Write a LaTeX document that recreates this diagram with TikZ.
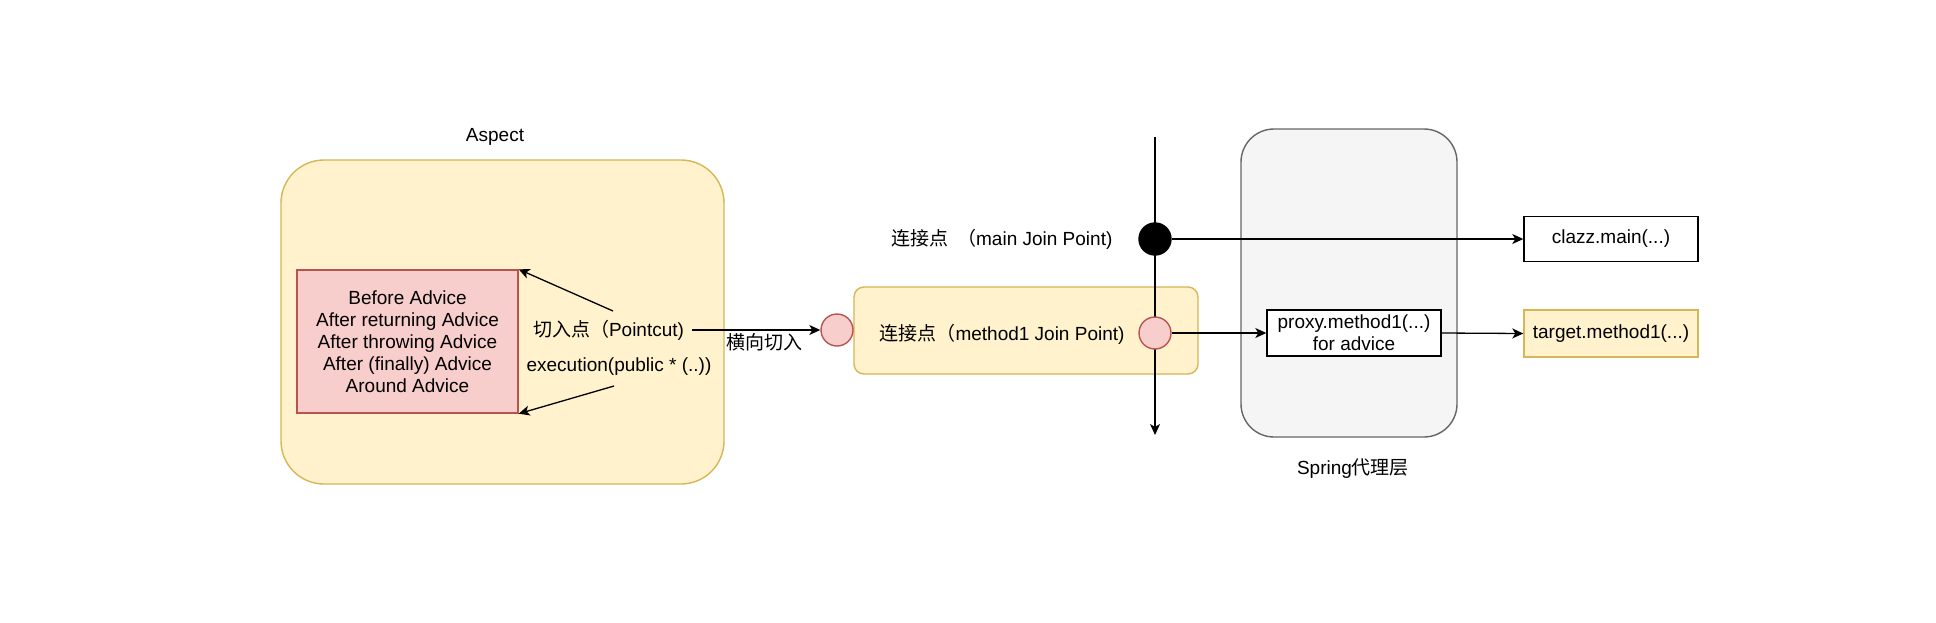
\documentclass[tikz,border=0pt]{standalone}
\usepackage{fontspec}
\setmainfont{Liberation Sans}
\newfontfamily\cjk{Noto Sans CJK SC}
\usetikzlibrary{arrows.meta}
\definecolor{yfill}{HTML}{FFF2CC}
\definecolor{ydraw}{HTML}{D6B656}
\definecolor{pfill}{HTML}{F8CECC}
\definecolor{pdraw}{HTML}{B85450}
\definecolor{gfill}{HTML}{F5F5F5}
\definecolor{gdraw}{HTML}{666666}
\newcommand{\zh}[1]{{\cjk #1}}
\begin{document}
\begin{tikzpicture}[x=1pt,y=-1pt,
  every node/.style={font=\fontsize{19}{22}\selectfont},
  txt/.style={inner sep=0pt, align=center},
  ybox/.style={draw=ydraw, fill=yfill, line width=1.4pt},
  pbox/.style={draw=pdraw, fill=pfill, line width=1.4pt},
  gbox/.style={draw=gdraw, fill=gfill, line width=1.4pt},
  wbox/.style={draw=black, fill=white, line width=1.4pt},
  jcirc/.style={circle, minimum size=32, inner sep=0pt, line width=1.4pt},
  conn/.style={draw=black, line width=1.3pt, -{Stealth[length=11pt,width=10pt,inset=3pt]}}
]
\useasboundingbox (0,0) rectangle (1936,622);
% containers
\node[ybox, rounded corners=43, minimum width=443, minimum height=324] (aspect) at (502.5,322) {};
\node[txt] (aspectlbl) at (495,137) {Aspect};
\node[pbox, minimum width=221, minimum height=143, txt] (advice) at (407.5,341.5)
  {Before Advice\\After returning Advice\\After throwing Advice\\After (finally) Advice\\Around Advice};
\node[ybox, rounded corners=10, minimum width=344, minimum height=87] (jp) at (1026,330.5) {};
\node[gbox, rounded corners=33, minimum width=216, minimum height=308] (spring) at (1349,283) {};
\node[txt] (springlbl) at (1353,469) {Spring\zh{代理层}};
% labels
\node[txt] (pointcut) at (608.5,330) {\zh{切入点（}Pointcut)};
\node[txt] (exec) at (619,367) {execution(public * (..))};
\node[txt] (cross) at (764,342) {\zh{横向切入}};
\node[txt] (jptext) at (1002,334) {\zh{连接点（}method1 Join Point)};
\node[txt] (mainlbl) at (1002,239) {\zh{连接点}\hspace{0.45em}\zh{（}main Join Point)};
% boxes
\node[wbox, minimum width=174, minimum height=45, txt] (clazz) at (1611,239) {clazz.main(...)};
\node[wbox, minimum width=174, minimum height=46, txt] (proxy) at (1354,333) {proxy.method1(...)\\for advice};
\node[ybox, minimum width=174, minimum height=47, txt] (target) at (1611,333.5) {target.method1(...)};
% flow line
\coordinate (vtop) at (1155,137);
\coordinate (vbot) at (1155,435);
\draw[conn] (vtop) -- (vbot);
% circles
\node[jcirc, draw=black, fill=black] (mainjp) at (1155,239) {};
\node[jcirc, draw=pdraw, fill=pfill] (c2) at (1155,333) {};
\node[jcirc, draw=pdraw, fill=pfill] (c1) at (837,330) {};
% connectors
\coordinate (p1s) at (613,311);
\coordinate (p2s) at (614,386);
\draw[conn] (p1s) -- (advice.north east);
\draw[conn] (p2s) -- (advice.south east);
\draw[conn] (pointcut.east) ++(8,0) -- (c1.west);
\draw[conn] (mainjp.east) -- (clazz.west);
\draw[conn] (c2.east) -- (proxy.west);
\draw[conn] (proxy.east) -- (target.west);
\end{tikzpicture}
\end{document}
